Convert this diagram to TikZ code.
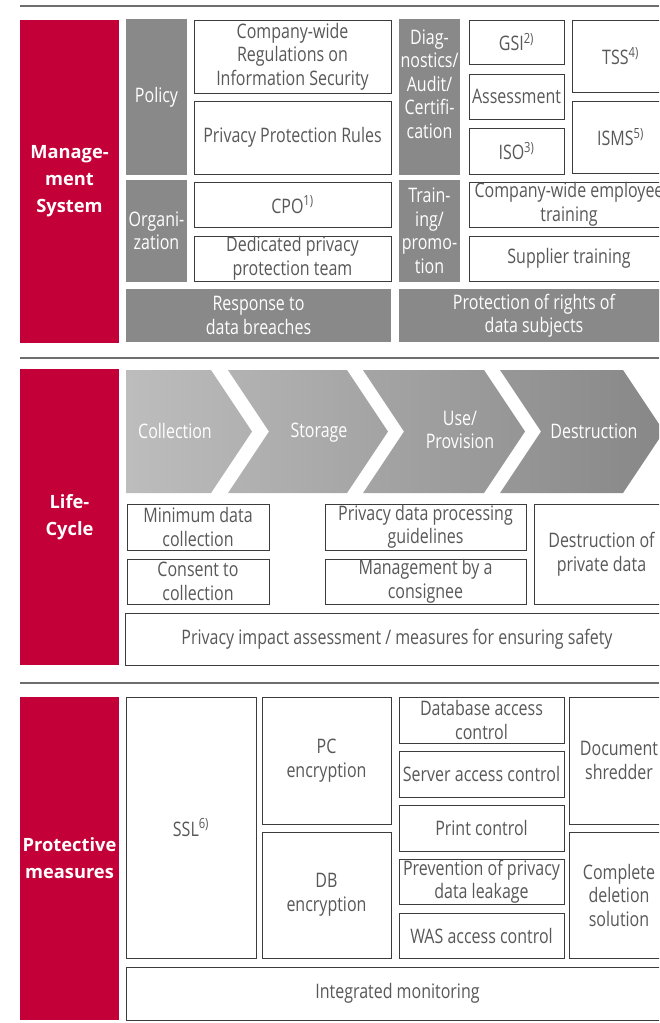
\documentclass[tikz,border=0pt]{standalone}
\usepackage{fontspec}
\setmainfont{Open Sans}[FakeStretch=0.8]
\newfontfamily\labelfont{Open Sans}
\definecolor{lgred}{HTML}{C30037}
\definecolor{blockgray}{HTML}{898989}
\definecolor{boxline}{HTML}{3C3C3C}
\definecolor{txt}{HTML}{585858}
\definecolor{rulegray}{HTML}{6E6E6E}
\definecolor{chevl}{HTML}{BDBDBD}
\definecolor{chevr}{HTML}{878787}
\newcommand{\bodyfnt}{\fontsize{20}{23.5}\selectfont}
\newcommand{\redfnt}{\labelfont\bfseries\fontsize{18.3}{27}\selectfont}
\begin{document}
\begin{tikzpicture}[x=1pt,y=-1pt,
  sz/.style n args={2}{minimum width=#1pt, minimum height=#2pt},
  wbox/.style={draw=boxline, line width=1pt, fill=white, text=txt, font=\bodyfnt,
    align=center, inner sep=0pt, outer sep=0pt, anchor=north west},
  gbox/.style={fill=blockgray, text=white, font=\bodyfnt,
    align=center, inner sep=0pt, outer sep=0pt, anchor=north west},
  gtext/.style={text=white, font=\bodyfnt, align=center, inner sep=0pt},
  rbox/.style={fill=lgred, text=white, font=\redfnt,
    align=center, inner sep=0pt, outer sep=0pt, anchor=north west},
  chevtext/.style={text=white, font=\bodyfnt, align=center, inner sep=0pt},
  sectionrule/.style={draw=rulegray, line width=1.5pt}
]
\useasboundingbox (0,0) rectangle (659,1023);
\clip (0,0) rectangle (659,1023);

% ---------- Management System ----------
\coordinate (r1a) at (20,6);
\coordinate (r1b) at (659,6);
\draw[sectionrule] (r1a) -- (r1b);
\node[rbox, sz={99}{323}] (mred) at (20,20) {Manage-\\ment\\System};
\node[gbox, sz={61}{156}] (policy) at (126,19) {Policy};
\node[gbox, sz={61}{102}] (org) at (126,180) {Organi-\\zation};
\node[wbox, sz={197}{73}] (reg) at (194,20) {Company-wide\\Regulations on\\Information Security};
\node[wbox, sz={197}{73}] (ppr) at (194,101) {Privacy Protection Rules};
\node[wbox, sz={197}{45}] (cpo) at (194,182) {CPO\textsuperscript{1)}};
\node[wbox, sz={197}{45}] (team) at (194,236) {Dedicated privacy\\protection team};
\node[gbox, sz={265}{53}] (resp) at (126,289) {Response to\\data breaches};
\node[gbox, sz={61}{156}] (diag) at (399,19) {};
\node[gtext] (diagt) at ([yshift=13pt]diag.center) {Diag-\\nostics/\\Audit/\\Certifi-\\cation};
\node[gbox, sz={61}{102}] (train) at (399,180) {Train-\\ing/\\promo-\\tion};
\node[wbox, sz={95}{44}] (gsi) at (469,20) {GSI\textsuperscript{2)}};
\node[wbox, sz={95}{45}] (assess) at (469,74) {Assessment};
\node[wbox, sz={95}{46}] (iso) at (469,128) {ISO\textsuperscript{3)}};
\node[wbox, sz={97}{72}] (tss) at (572,20) {TSS\textsuperscript{4)}};
\node[wbox, sz={97}{72}] (isms) at (572,101) {ISMS\textsuperscript{5)}};
\node[wbox, sz={200}{45}] (cwet) at (469,182) {Company-wide employee\\training};
\node[wbox, sz={200}{45}] (supp) at (469,236) {Supplier training};
\node[gbox, sz={270}{53}] (prot) at (399,289) {Protection of rights of\\data subjects};

% ---------- Life-Cycle ----------
\coordinate (r2a) at (20,358);
\coordinate (r2b) at (659,358);
\draw[sectionrule] (r2a) -- (r2b);
\node[rbox, sz={99}{296}] (lred) at (20,369) {Life-\\Cycle};
\shade[left color=chevl, right color=chevr]
  (126,370) -- (211,370) -- (252,431.5) -- (211,493) -- (126,493) -- cycle
  (228,370) -- (347,370) -- (388,431.5) -- (347,493) -- (228,493) -- (269,431.5) -- cycle
  (363,370) -- (484,370) -- (525,431.5) -- (484,493) -- (363,493) -- (404,431.5) -- cycle
  (500,370) -- (623,370) -- (664,431.5) -- (623,493) -- (500,493) -- (541,431.5) -- cycle;
\node[chevtext] (coll) at (175,431) {Collection};
\node[chevtext] (stor) at (319,433) {Storage};
\node[chevtext] (use) at (460,430) {Use/\\Provision};
\node[chevtext] (dest) at (594,431) {Destruction};
\node[wbox, sz={142}{46}] (mindc) at (127,504) {Minimum data\\collection};
\node[wbox, sz={142}{45}] (cons) at (127,559) {Consent to\\collection};
\node[wbox, sz={201}{46}] (pdpg) at (325,504) {Privacy data processing\\guidelines};
\node[wbox, sz={201}{45}] (mgmt) at (325,559) {Management by a\\consignee};
\node[wbox, sz={135}{100}] (destr) at (534,504) {Destruction of\\private data};
\node[wbox, sz={544}{52}] (pia) at (125,613) {Privacy impact assessment / measures for ensuring safety};

% ---------- Protective measures ----------
\coordinate (r3a) at (20,683);
\coordinate (r3b) at (659,683);
\draw[sectionrule] (r3a) -- (r3b);
\node[rbox, sz={99}{323}] (pred) at (20,697) {Protective\\measures};
\node[wbox, sz={130}{261}] (ssl) at (126,697) {SSL\textsuperscript{6)}};
\node[wbox, sz={129}{127}] (pcenc) at (262,697) {PC\\encryption};
\node[wbox, sz={129}{126}] (dbenc) at (262,832) {DB\\encryption};
\node[wbox, sz={165}{46}] (dbac) at (399,697) {Database access\\control};
\node[wbox, sz={165}{46}] (sac) at (399,751) {Server access control};
\node[wbox, sz={165}{46}] (prc) at (399,805) {Print control};
\node[wbox, sz={165}{45}] (prev) at (399,859) {Prevention of privacy\\data leakage};
\node[wbox, sz={165}{45}] (was) at (399,913) {WAS access control};
\node[wbox, sz={100}{127}] (doc) at (569,697) {Document\\shredder};
\node[wbox, sz={100}{126}] (comp) at (569,832) {Complete\\deletion\\solution};
\node[wbox, sz={543}{53}] (mon) at (126,967) {Integrated monitoring};
\end{tikzpicture}
\end{document}
